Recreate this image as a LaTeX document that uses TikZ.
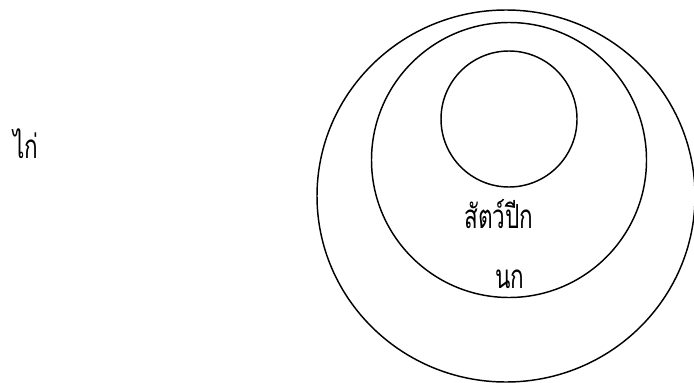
\documentclass[tikz,border=0pt]{standalone}
\usepackage{fontspec}
\newfontfamily\thaifont[Script=Thai]{Loma}
\usetikzlibrary{positioning}
\tikzset{ring/.style={line width=1.1pt, black}}
\tikzset{label/.style={font=\thaifont\fontsize{25pt}{30pt}\selectfont, inner sep=0pt, xscale=0.68}}

\begin{document}
\begin{tikzpicture}[x=0.0265cm, y=0.0265cm]
  \useasboundingbox (0,0) rectangle (694,382);
  \clip (0,0) rectangle (694,382);

  % nested sets
  \draw[ring] (506,186) ellipse (189 and 186);
  \draw[ring] (509,222) circle (137.5);
  \draw[ring] (509,263) circle (68);

  \node[label, anchor=base west] (kai) at (13,224) {ไก่};
  \node[label, anchor=base] (satpik) at (499,154) {สัตว์ปีก};
  \node[label, anchor=base] (nok) at (510,94) {นก};
\end{tikzpicture}
\end{document}
